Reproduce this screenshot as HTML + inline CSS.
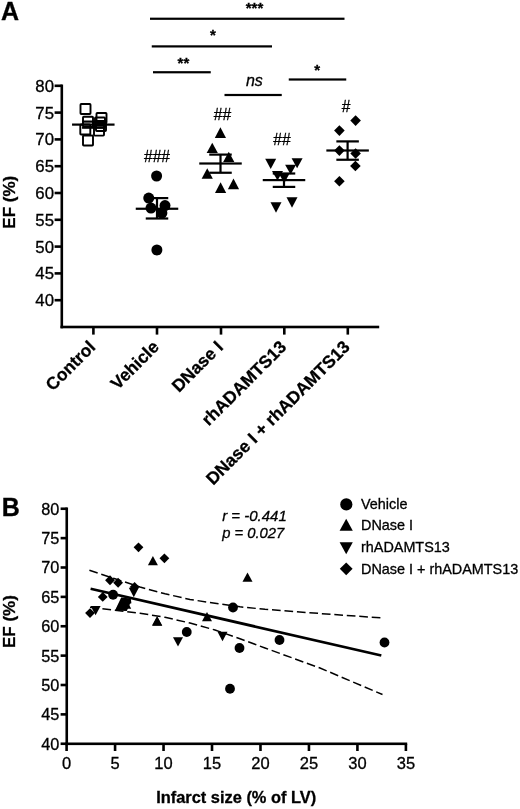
<!DOCTYPE html><html><head><meta charset="utf-8"><style>html,body{margin:0;padding:0;background:#fff}svg{display:block;will-change:transform;filter:blur(0.45px)}text{font-family:"Liberation Sans", sans-serif;fill:#000;stroke:#000;stroke-width:0.3px}</style></head><body>
<svg width="520" height="809" viewBox="0 0 520 809" fill="#000">
<rect width="520" height="809" fill="#fff"/>
<text x="1.00" y="19.70" font-size="25" text-anchor="start" font-weight="bold" font-style="normal" >A</text>
<rect x="60.50" y="84.50" width="2.6" height="243.80"/>
<rect x="60.50" y="325.70" width="318.70" height="2.6"/>
<rect x="54.60" y="298.90" width="7.20" height="2.6"/>
<text x="54.00" y="306.20" font-size="16.8" text-anchor="end" font-weight="normal" font-style="normal" >40</text>
<rect x="54.60" y="272.10" width="7.20" height="2.6"/>
<text x="54.00" y="279.40" font-size="16.8" text-anchor="end" font-weight="normal" font-style="normal" >45</text>
<rect x="54.60" y="245.30" width="7.20" height="2.6"/>
<text x="54.00" y="252.60" font-size="16.8" text-anchor="end" font-weight="normal" font-style="normal" >50</text>
<rect x="54.60" y="218.50" width="7.20" height="2.6"/>
<text x="54.00" y="225.80" font-size="16.8" text-anchor="end" font-weight="normal" font-style="normal" >55</text>
<rect x="54.60" y="191.70" width="7.20" height="2.6"/>
<text x="54.00" y="199.00" font-size="16.8" text-anchor="end" font-weight="normal" font-style="normal" >60</text>
<rect x="54.60" y="164.90" width="7.20" height="2.6"/>
<text x="54.00" y="172.20" font-size="16.8" text-anchor="end" font-weight="normal" font-style="normal" >65</text>
<rect x="54.60" y="138.10" width="7.20" height="2.6"/>
<text x="54.00" y="145.40" font-size="16.8" text-anchor="end" font-weight="normal" font-style="normal" >70</text>
<rect x="54.60" y="111.30" width="7.20" height="2.6"/>
<text x="54.00" y="118.60" font-size="16.8" text-anchor="end" font-weight="normal" font-style="normal" >75</text>
<rect x="54.60" y="84.50" width="7.20" height="2.6"/>
<text x="54.00" y="91.80" font-size="16.8" text-anchor="end" font-weight="normal" font-style="normal" >80</text>
<rect x="92.10" y="327.00" width="2.6" height="7.60"/>
<text transform="translate(96.50,348) rotate(-45)" font-size="17.4" font-weight="bold" text-anchor="end">Control</text>
<rect x="155.70" y="327.00" width="2.6" height="7.60"/>
<text transform="translate(160.10,348) rotate(-45)" font-size="17.4" font-weight="bold" text-anchor="end">Vehicle</text>
<rect x="219.70" y="327.00" width="2.6" height="7.60"/>
<text transform="translate(224.10,348) rotate(-45)" font-size="17.4" font-weight="bold" text-anchor="end">DNase I</text>
<rect x="283.00" y="327.00" width="2.6" height="7.60"/>
<text transform="translate(287.40,348) rotate(-45)" font-size="17.4" font-weight="bold" text-anchor="end">rhADAMTS13</text>
<rect x="346.50" y="327.00" width="2.6" height="7.60"/>
<text transform="translate(350.90,348) rotate(-45)" font-size="17.4" font-weight="bold" text-anchor="end">DNase I + rhADAMTS13</text>
<text transform="translate(15,202.2) rotate(-90)" font-size="17" font-weight="bold" text-anchor="middle">EF (%)</text>
<rect x="150.00" y="17.65" width="194.50" height="2.2"/>
<text x="254.50" y="13.20" font-size="15" text-anchor="middle" font-weight="bold" font-style="normal" >***</text>
<rect x="151.75" y="45.30" width="120.25" height="2.2"/>
<text x="213.00" y="40.10" font-size="15" text-anchor="middle" font-weight="bold" font-style="normal" >*</text>
<rect x="153.00" y="71.15" width="57.75" height="2.2"/>
<text x="183.40" y="68.40" font-size="15" text-anchor="middle" font-weight="bold" font-style="normal" >**</text>
<rect x="224.50" y="93.90" width="57.25" height="2.2"/>
<text x="254.40" y="86.30" font-size="16" text-anchor="middle" font-weight="normal" font-style="italic" >ns</text>
<rect x="288.75" y="78.40" width="57.50" height="2.2"/>
<text x="317.10" y="74.90" font-size="15" text-anchor="middle" font-weight="bold" font-style="normal" >*</text>
<text x="157.00" y="162.30" font-size="15.6" text-anchor="middle" font-weight="normal" font-style="normal" stroke="#000" stroke-width="0.45">###</text>
<text x="222.50" y="120.20" font-size="15.6" text-anchor="middle" font-weight="normal" font-style="normal" stroke="#000" stroke-width="0.45">##</text>
<text x="282.00" y="144.50" font-size="15.6" text-anchor="middle" font-weight="normal" font-style="normal" stroke="#000" stroke-width="0.45">##</text>
<text x="346.00" y="112.00" font-size="15.6" text-anchor="middle" font-weight="normal" font-style="normal" stroke="#000" stroke-width="0.45">#</text>
<rect x="80.50" y="104.00" width="10" height="10" fill="none" stroke="#000" stroke-width="1.9" rx="0.8"/>
<rect x="96.50" y="113.00" width="10" height="10" fill="none" stroke="#000" stroke-width="1.9" rx="0.8"/>
<rect x="83.00" y="116.80" width="10" height="10" fill="none" stroke="#000" stroke-width="1.9" rx="0.8"/>
<rect x="95.00" y="117.50" width="10" height="10" fill="none" stroke="#000" stroke-width="1.9" rx="0.8"/>
<rect x="80.30" y="124.50" width="10" height="10" fill="none" stroke="#000" stroke-width="1.9" rx="0.8"/>
<rect x="94.00" y="125.60" width="10" height="10" fill="none" stroke="#000" stroke-width="1.9" rx="0.8"/>
<rect x="83.00" y="135.50" width="10" height="10" fill="none" stroke="#000" stroke-width="1.9" rx="0.8"/>
<rect x="96.00" y="121.00" width="10" height="10" fill="none" stroke="#000" stroke-width="1.9" rx="0.8"/>
<rect x="72.05" y="123.50" width="42.50" height="2.2"/>
<rect x="82.05" y="120.50" width="22.50" height="2.2"/>
<rect x="82.05" y="126.60" width="22.50" height="2.2"/>
<rect x="92.20" y="121.60" width="2.2" height="6.10"/>
<circle cx="156.60" cy="176.00" r="5.5"/>
<circle cx="148.75" cy="198.10" r="5.5"/>
<circle cx="151.00" cy="208.10" r="5.5"/>
<circle cx="165.00" cy="205.60" r="5.5"/>
<circle cx="161.90" cy="213.10" r="5.5"/>
<circle cx="156.90" cy="250.00" r="5.5"/>
<rect x="135.75" y="207.65" width="42.50" height="2.2"/>
<rect x="145.75" y="197.00" width="22.50" height="2.2"/>
<rect x="145.75" y="217.40" width="22.50" height="2.2"/>
<rect x="155.90" y="198.10" width="2.2" height="20.40"/>
<path d="M214.80 137.95L226.00 137.95L220.40 127.30Z"/>
<path d="M206.65 152.95L217.85 152.95L212.25 142.70Z"/>
<path d="M223.15 162.10L234.35 162.10L228.75 151.70Z"/>
<path d="M201.65 178.70L212.85 178.70L207.25 168.30Z"/>
<path d="M215.00 192.95L226.20 192.95L220.60 182.30Z"/>
<path d="M227.90 189.20L239.10 189.20L233.50 178.55Z"/>
<rect x="199.25" y="162.40" width="42.50" height="2.2"/>
<rect x="209.25" y="153.50" width="22.50" height="2.2"/>
<rect x="209.25" y="171.65" width="22.50" height="2.2"/>
<rect x="219.40" y="154.60" width="2.2" height="18.15"/>
<path d="M265.20 158.80L276.20 158.80L270.70 168.95Z"/>
<path d="M291.60 158.30L302.60 158.30L297.10 168.30Z"/>
<path d="M285.10 164.80L296.10 164.80L290.60 174.60Z"/>
<path d="M272.00 171.05L283.00 171.05L277.50 180.40Z"/>
<path d="M278.70 173.30L289.70 173.30L284.20 183.20Z"/>
<path d="M286.50 197.30L297.50 197.30L292.00 207.70Z"/>
<path d="M270.50 202.30L281.50 202.30L276.00 212.70Z"/>
<rect x="262.75" y="179.00" width="42.50" height="2.2"/>
<rect x="272.75" y="172.40" width="22.50" height="2.2"/>
<rect x="272.75" y="185.80" width="22.50" height="2.2"/>
<rect x="282.90" y="173.50" width="2.2" height="13.40"/>
<path d="M350.30 120.60L355.60 115.30L360.90 120.60L355.60 125.90Z"/>
<path d="M334.10 130.60L339.40 125.30L344.70 130.60L339.40 135.90Z"/>
<path d="M334.10 150.60L339.40 145.30L344.70 150.60L339.40 155.90Z"/>
<path d="M350.30 153.50L355.60 148.20L360.90 153.50L355.60 158.80Z"/>
<path d="M350.10 166.00L355.40 160.70L360.70 166.00L355.40 171.30Z"/>
<path d="M334.10 181.25L339.40 175.95L344.70 181.25L339.40 186.55Z"/>
<rect x="326.35" y="149.40" width="42.50" height="2.2"/>
<rect x="336.35" y="140.30" width="22.50" height="2.2"/>
<rect x="336.35" y="158.65" width="22.50" height="2.2"/>
<rect x="346.50" y="141.40" width="2.2" height="18.35"/>
<text x="1.80" y="516.20" font-size="25" text-anchor="start" font-weight="bold" font-style="normal" >B</text>
<rect x="65.45" y="507.45" width="2.6" height="237.65"/>
<rect x="65.45" y="742.50" width="341.74" height="2.6"/>
<rect x="60.60" y="742.45" width="6.15" height="2.6"/>
<text x="59.30" y="749.65" font-size="16.3" text-anchor="end" font-weight="normal" font-style="normal" >40</text>
<rect x="60.60" y="713.08" width="6.15" height="2.6"/>
<text x="59.30" y="720.27" font-size="16.3" text-anchor="end" font-weight="normal" font-style="normal" >45</text>
<rect x="60.60" y="683.70" width="6.15" height="2.6"/>
<text x="59.30" y="690.90" font-size="16.3" text-anchor="end" font-weight="normal" font-style="normal" >50</text>
<rect x="60.60" y="654.33" width="6.15" height="2.6"/>
<text x="59.30" y="661.52" font-size="16.3" text-anchor="end" font-weight="normal" font-style="normal" >55</text>
<rect x="60.60" y="624.95" width="6.15" height="2.6"/>
<text x="59.30" y="632.15" font-size="16.3" text-anchor="end" font-weight="normal" font-style="normal" >60</text>
<rect x="60.60" y="595.58" width="6.15" height="2.6"/>
<text x="59.30" y="602.77" font-size="16.3" text-anchor="end" font-weight="normal" font-style="normal" >65</text>
<rect x="60.60" y="566.20" width="6.15" height="2.6"/>
<text x="59.30" y="573.40" font-size="16.3" text-anchor="end" font-weight="normal" font-style="normal" >70</text>
<rect x="60.60" y="536.83" width="6.15" height="2.6"/>
<text x="59.30" y="544.02" font-size="16.3" text-anchor="end" font-weight="normal" font-style="normal" >75</text>
<rect x="60.60" y="507.45" width="6.15" height="2.6"/>
<text x="59.30" y="514.65" font-size="16.3" text-anchor="end" font-weight="normal" font-style="normal" >80</text>
<rect x="65.30" y="743.80" width="2.6" height="7.20"/>
<text x="66.60" y="769.20" font-size="16.5" text-anchor="middle" font-weight="normal" font-style="normal" >0</text>
<rect x="113.77" y="743.80" width="2.6" height="7.20"/>
<text x="115.07" y="769.20" font-size="16.5" text-anchor="middle" font-weight="normal" font-style="normal" >5</text>
<rect x="162.24" y="743.80" width="2.6" height="7.20"/>
<text x="163.54" y="769.20" font-size="16.5" text-anchor="middle" font-weight="normal" font-style="normal" >10</text>
<rect x="210.71" y="743.80" width="2.6" height="7.20"/>
<text x="212.01" y="769.20" font-size="16.5" text-anchor="middle" font-weight="normal" font-style="normal" >15</text>
<rect x="259.18" y="743.80" width="2.6" height="7.20"/>
<text x="260.48" y="769.20" font-size="16.5" text-anchor="middle" font-weight="normal" font-style="normal" >20</text>
<rect x="307.65" y="743.80" width="2.6" height="7.20"/>
<text x="308.95" y="769.20" font-size="16.5" text-anchor="middle" font-weight="normal" font-style="normal" >25</text>
<rect x="356.12" y="743.80" width="2.6" height="7.20"/>
<text x="357.42" y="769.20" font-size="16.5" text-anchor="middle" font-weight="normal" font-style="normal" >30</text>
<rect x="404.59" y="743.80" width="2.6" height="7.20"/>
<text x="405.89" y="769.20" font-size="16.5" text-anchor="middle" font-weight="normal" font-style="normal" >35</text>
<text x="236.20" y="803.40" font-size="16.4" text-anchor="middle" font-weight="bold" font-style="normal" >Infarct size (% of LV)</text>
<text transform="translate(14.75,621.6) rotate(-90)" font-size="17" font-weight="bold" text-anchor="middle">EF (%)</text>
<text x="222.20" y="521.30" font-size="15.0" text-anchor="start" font-weight="normal" font-style="italic" >r = -0.441</text>
<text x="222.20" y="537.90" font-size="14.8" text-anchor="start" font-weight="normal" font-style="italic" >p = 0.027</text>
<circle cx="346.30" cy="504.40" r="6.1"/>
<path d="M339.60 530.80L352.80 530.80L346.20 518.80Z"/>
<path d="M339.60 542.30L352.80 542.30L346.20 554.30Z"/>
<path d="M339.80 568.80L346.20 562.40L352.60 568.80L346.20 575.20Z"/>
<text x="361.00" y="508.65" font-size="14.4" text-anchor="start" font-weight="normal" font-style="normal" >Vehicle</text>
<text x="361.00" y="530.40" font-size="14.4" text-anchor="start" font-weight="normal" font-style="normal" >DNase I</text>
<text x="361.00" y="552.20" font-size="14.4" text-anchor="start" font-weight="normal" font-style="normal" >rhADAMTS13</text>
<text x="361.00" y="574.00" font-size="14.4" text-anchor="start" font-weight="normal" font-style="normal" >DNase I + rhADAMTS13</text>
<path d="M90.6 588.8L381.3 655.5" stroke="#000" stroke-width="2.7" fill="none"/>
<path d="M89.4 570.3L115 578.8L140 587L165 593.75L190 599.5L215 603.2L240 606.8L265 609.3L320 613.5L382.5 618" stroke="#000" stroke-width="1.5" fill="none" stroke-dasharray="8.7 3.8"/>
<path d="M90 607.2L115 610.3L140 613.2L165 617.3L190 623L215 630L240 638.75L265 648L320 668L382.5 694.5" stroke="#000" stroke-width="1.5" fill="none" stroke-dasharray="8.7 3.8"/>
<path d="M133.60 547.30L138.50 542.40L143.40 547.30L138.50 552.20Z"/>
<path d="M159.50 558.30L164.40 553.40L169.30 558.30L164.40 563.20Z"/>
<path d="M105.10 580.25L110.00 575.35L114.90 580.25L110.00 585.15Z"/>
<path d="M113.20 582.75L118.10 577.85L123.00 582.75L118.10 587.65Z"/>
<path d="M129.70 586.90L134.60 582.00L139.50 586.90L134.60 591.80Z"/>
<path d="M97.85 596.90L102.75 592.00L107.65 596.90L102.75 601.80Z"/>
<path d="M85.10 613.10L90.00 608.20L94.90 613.10L90.00 618.00Z"/>
<circle cx="113.10" cy="594.75" r="4.9"/>
<circle cx="233.00" cy="607.50" r="4.9"/>
<circle cx="186.75" cy="632.00" r="4.9"/>
<circle cx="239.50" cy="648.00" r="4.9"/>
<circle cx="230.00" cy="688.75" r="4.9"/>
<circle cx="279.50" cy="640.00" r="4.9"/>
<circle cx="384.50" cy="642.50" r="4.9"/>
<path d="M147.90 565.35L157.90 565.35L152.90 556.05Z"/>
<path d="M242.50 581.85L252.50 581.85L247.50 572.55Z"/>
<path d="M202.00 621.35L212.00 621.35L207.00 612.05Z"/>
<path d="M152.00 625.55L162.00 625.55L157.00 616.25Z"/>
<path d="M152.30 625.85L162.30 625.85L157.30 616.55Z"/>
<path d="M116.20 608.85L126.20 608.85L121.20 599.55Z"/>
<path d="M121.20 608.65L131.20 608.65L126.20 599.35Z"/>
<path d="M128.80 587.85L138.80 587.85L133.80 597.15Z"/>
<path d="M90.60 605.95L100.60 605.95L95.60 615.25Z"/>
<path d="M173.00 637.25L183.00 637.25L178.00 646.55Z"/>
<path d="M217.50 631.85L227.50 631.85L222.50 641.15Z"/>
<path d="M120.00 601.85L130.00 601.85L125.00 611.15Z"/>
<path d="M115 610.4L121.2 597.4L130.8 598.6L131.4 603.2L130 603.8L126.8 610.9Z"/>
</svg></body></html>
